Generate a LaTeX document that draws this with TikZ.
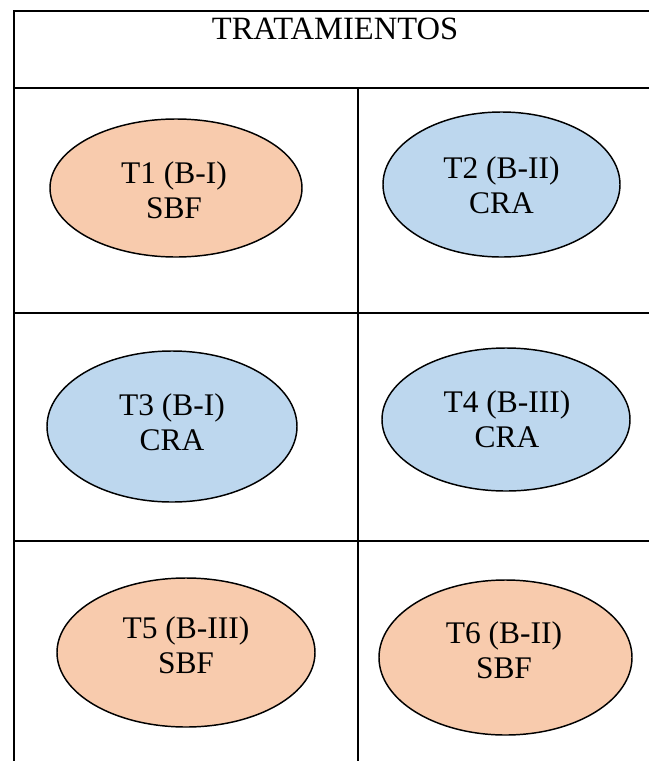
\documentclass[tikz,border=0pt]{standalone}
\usepackage{fontspec}
\setmainfont{Liberation Serif}
\usetikzlibrary{shapes.geometric}
\definecolor{sbffill}{HTML}{F8CBAD}
\definecolor{crafill}{HTML}{BDD7EE}
\tikzset{
  grid line/.style={line width=1.5pt, black},
  treat/.style={ellipse, draw=black, line width=1.1pt, inner sep=0pt},
  sbf/.style={treat, fill=sbffill},
  cra/.style={treat, fill=crafill},
  label text/.style={align=center, inner sep=0pt,
    font=\fontsize{23.6pt}{26.25pt}\selectfont},
  title text/.style={inner sep=0pt,
    font=\fontsize{24.4pt}{28pt}\selectfont},
}
\begin{document}
\begin{tikzpicture}[x=0.75pt, y=-0.75pt]
  \useasboundingbox (0,0) rectangle (649,761);
  % table frame (runs off the right and bottom edges)
  \coordinate (tl) at (13.5,10.5);
  \coordinate (tr) at (660,10.5);
  \coordinate (bl) at (13.5,775);
  \draw[grid line] (tr) -- (tl) -- (bl);
  \coordinate (h1l) at (13.5,88);  \coordinate (h1r) at (660,88);
  \coordinate (h2l) at (13.5,313); \coordinate (h2r) at (660,313);
  \coordinate (h3l) at (13.5,541); \coordinate (h3r) at (660,541);
  \coordinate (vt) at (358,88);    \coordinate (vb) at (358,775);
  \draw[grid line] (h1l) -- (h1r);
  \draw[grid line] (h2l) -- (h2r);
  \draw[grid line] (h3l) -- (h3r);
  \draw[grid line] (vt) -- (vb);
  % header
  \node[title text] (title) at (335,29) {TRATAMIENTOS};
  % treatments
  \node[sbf, minimum width=252pt*0.75, minimum height=138pt*0.75] (t1) at (176,188) {};
  \node[cra, minimum width=237pt*0.75, minimum height=145pt*0.75] (t2) at (501.5,184.5) {};
  \node[cra, minimum width=250pt*0.75, minimum height=151pt*0.75] (t3) at (172,426.5) {};
  \node[cra, minimum width=248pt*0.75, minimum height=143pt*0.75] (t4) at (506,419.5) {};
  \node[sbf, minimum width=258pt*0.75, minimum height=149pt*0.75] (t5) at (186,652.5) {};
  \node[sbf, minimum width=253pt*0.75, minimum height=155pt*0.75] (t6) at (505.5,657.5) {};
  \node[label text] (t1text) at (174,190.5) {T1 (B-I)\\SBF};
  \node[label text] (t2text) at (501.5,185) {T2 (B-II)\\CRA};
  \node[label text] (t3text) at (172,422.5) {T3 (B-I)\\CRA};
  \node[label text] (t4text) at (507,419.5) {T4 (B-III)\\CRA};
  \node[label text] (t5text) at (186,645.5) {T5 (B-III)\\SBF};
  \node[label text] (t6text) at (504,650.5) {T6 (B-II)\\SBF};
\end{tikzpicture}
\end{document}
